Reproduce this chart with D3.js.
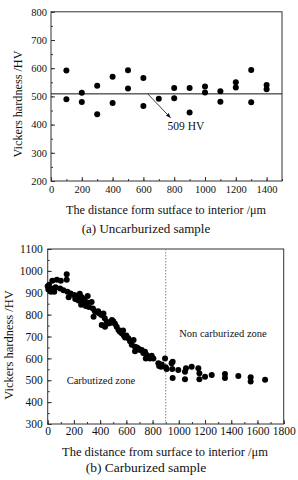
<!DOCTYPE html>
<html>
<head>
<meta charset="utf-8">
<script src="https://cdn.jsdelivr.net/npm/d3@7"></script>
<style>
  body { margin: 0; background: #fff; }
  svg text { font-family: "Liberation Serif", "Times New Roman", serif; fill: #111; }
</style>
</head>
<body>
<svg id="chart" width="298" height="480"></svg>
<script>
// (a) uncarburized sample: distance /um and hardness /HV
const uncarbDist = [100, 100, 200, 200, 300, 300, 400, 400, 500, 500, 600, 600, 700,
  800, 800, 900, 900, 1000, 1000, 1100, 1100, 1200, 1200, 1300, 1300, 1400, 1400];
const uncarbHV = [592, 490, 513, 480, 538, 437, 570, 477, 593, 528, 565, 466, 492,
  530, 493, 530, 443, 535, 514, 518, 481, 550, 532, 594, 479, 540, 525];
const uncarbMean = 509;

// (b) carburized sample
const carbDist = [0, 5, 10, 20, 25, 35, 45, 50, 60, 70, 95, 100, 120, 145, 145, 150,
  160, 175, 200, 210, 225, 235, 245, 255, 260, 270, 280, 290, 300, 305, 315, 335, 345,
  350, 360, 375, 385, 395, 410, 412, 425, 435, 437, 450, 462, 475, 490, 500, 513, 526,
  540, 551, 565, 575, 580, 590, 600, 615, 628, 641, 655, 666, 666, 680, 691, 704, 717,
  729, 742, 748, 755, 780, 793, 806, 844, 850, 864, 870, 895, 900, 907, 945, 953, 950,
  953, 996, 1047, 1055, 1047, 1098, 1149, 1157, 1157, 1200, 1251, 1352, 1352, 1454,
  1548, 1548, 1658];
const carbHV = [930, 915, 935, 920, 905, 955, 920, 905, 925, 960, 920, 955, 912, 985, 960, 905,
  880, 897, 890, 872, 888, 865, 895, 845, 880, 860, 870, 840, 855, 885, 835, 858, 828,
  790, 815, 812, 815, 805, 798, 753, 805, 783, 745, 768, 760, 762, 775, 770, 758, 745,
  730, 722, 715, 728, 705, 695, 705, 692, 678, 662, 684, 653, 633, 650, 645, 638, 638,
  625, 630, 600, 615, 600, 612, 600, 578, 565, 562, 572, 600, 560, 552, 578, 585, 552,
  510, 547, 539, 555, 505, 562, 555, 532, 505, 516, 524, 529, 510, 520,
  514, 494, 502];
const zoneBoundary = 900;

const svg = d3.select("#chart");

function drawPanel(o) {
  const x = d3.scaleLinear().domain(o.xDomain).range([o.left, o.right]);
  const y = d3.scaleLinear().domain(o.yDomain).range([o.bottom, o.top]);
  const g = svg.append("g");

  // minor ticks
  g.append("g")
    .attr("transform", `translate(0,${o.bottom})`)
    .call(d3.axisBottom(x).tickValues(d3.range(o.xDomain[0], o.xDomain[1] + 1, o.xStep / 2))
      .tickSize(-2).tickFormat(""))
    .call(a => a.select(".domain").remove());
  g.append("g")
    .attr("transform", `translate(${o.left},0)`)
    .call(d3.axisLeft(y).tickValues(d3.range(o.yDomain[0], o.yDomain[1] + 1, o.yStep / 2))
      .tickSize(-2).tickFormat(""))
    .call(a => a.select(".domain").remove());

  // major ticks + labels
  const xa = g.append("g")
    .attr("transform", `translate(0,${o.bottom})`)
    .call(d3.axisBottom(x).tickValues(d3.range(o.xDomain[0], o.xDomain[1] + 1, o.xStep))
      .tickSize(-4).tickPadding(o.xPad).tickFormat(d3.format("d")));
  xa.select(".domain").remove();
  xa.selectAll("text").attr("font-size", o.tickFont).attr("fill", "#111");

  const ya = g.append("g")
    .attr("transform", `translate(${o.left},0)`)
    .call(d3.axisLeft(y).tickValues(d3.range(o.yDomain[0], o.yDomain[1] + 1, o.yStep))
      .tickSize(-4).tickPadding(o.yPad).tickFormat(d3.format("d")));
  ya.select(".domain").remove();
  ya.selectAll("text").attr("font-size", o.tickFont).attr("fill", "#111");
  g.selectAll(".tick line").attr("stroke", "#333");

  // frame
  g.append("rect")
    .attr("x", o.left).attr("y", o.top)
    .attr("width", o.right - o.left).attr("height", o.bottom - o.top)
    .attr("fill", "none").attr("stroke", "#333").attr("stroke-width", 1);

  // titles
  g.append("text")
    .attr("transform", `translate(${o.yTitleX},${o.yTitleY}) rotate(-90)`)
    .attr("text-anchor", "middle")
    .attr("font-size", o.titleFont)
    .text("Vickers hardness /HV");
  g.append("text")
    .attr("x", o.xTitleX).attr("y", o.xTitleY)
    .attr("text-anchor", "middle")
    .attr("font-size", o.titleFont)
    .text(o.xTitle);
  g.append("text")
    .attr("x", o.capX).attr("y", o.capY)
    .attr("text-anchor", "middle")
    .attr("font-size", o.capFont)
    .text(o.caption);

  return { x, y, g };
}

// (a)
const pa = drawPanel({
  left: 51, right: 282, top: 11.8, bottom: 181,
  xDomain: [0, 1500], yDomain: [200, 800], xStep: 200, yStep: 100,
  xPad: 5, yPad: 4, tickFont: 10.5, titleFont: 12.2, capFont: 13,
  yTitleX: 22, yTitleY: 104, xTitleX: 166, xTitleY: 214,
  xTitle: "The distance form sutface to interior /\u03bcm",
  capX: 146, capY: 233, caption: "(a) Uncarburized sample"
});
pa.g.append("line")
  .attr("x1", pa.x(0)).attr("x2", pa.x(1500))
  .attr("y1", pa.y(uncarbMean)).attr("y2", pa.y(uncarbMean))
  .attr("stroke", "#111").attr("stroke-width", 1);

svg.append("defs").append("marker")
  .attr("id", "arrow").attr("viewBox", "0 0 10 10")
  .attr("refX", 9).attr("refY", 5)
  .attr("markerWidth", 6).attr("markerHeight", 6)
  .attr("orient", "auto")
  .append("path").attr("d", "M0,1 L10,5 L0,9 Z").attr("fill", "#111");

pa.g.append("line")
  .attr("x1", pa.x(628)).attr("y1", pa.y(uncarbMean))
  .attr("x2", pa.x(775)).attr("y2", pa.y(425))
  .attr("stroke", "#111").attr("stroke-width", 0.8)
  .attr("marker-end", "url(#arrow)");
pa.g.append("text")
  .attr("x", pa.x(876)).attr("y", pa.y(381))
  .attr("text-anchor", "middle").attr("font-size", 11.5)
  .text(uncarbMean + " HV");

pa.g.selectAll("circle")
  .data(uncarbDist.map((d, i) => [d, uncarbHV[i]]))
  .enter().append("circle")
  .attr("cx", d => pa.x(d[0])).attr("cy", d => pa.y(d[1]))
  .attr("r", 3).attr("fill", "#000");

// (b)
const pb = drawPanel({
  left: 47.7, right: 283.7, top: 249, bottom: 424,
  xDomain: [0, 1800], yDomain: [300, 1100], xStep: 200, yStep: 100,
  xPad: 3, yPad: 5, tickFont: 11.5, titleFont: 12.5, capFont: 13.5,
  yTitleX: 13, yTitleY: 345, xTitleX: 165, xTitleY: 456,
  xTitle: "The distance from surface to interior /\u03bcm",
  capX: 146, capY: 472, caption: "(b) Carburized sample"
});

pb.g.append("line")
  .attr("x1", pb.x(zoneBoundary)).attr("x2", pb.x(zoneBoundary))
  .attr("y1", pb.y(1100)).attr("y2", pb.y(300))
  .attr("stroke", "#888").attr("stroke-width", 1)
  .attr("stroke-dasharray", "1.5,1.5");

pb.g.append("text")
  .attr("x", pb.x(1337)).attr("y", pb.y(716) + 4)
  .attr("text-anchor", "middle").attr("font-size", 10.5)
  .text("Non carburized zone");
pb.g.append("text")
  .attr("x", pb.x(406)).attr("y", pb.y(500) + 4)
  .attr("text-anchor", "middle").attr("font-size", 10.5)
  .text("Carbutized zone");

pb.g.selectAll("circle")
  .data(carbDist.map((d, i) => [d, carbHV[i]]))
  .enter().append("circle")
  .attr("cx", d => pb.x(d[0])).attr("cy", d => pb.y(d[1]))
  .attr("r", 3).attr("fill", "#000");
</script>
</body>
</html>
